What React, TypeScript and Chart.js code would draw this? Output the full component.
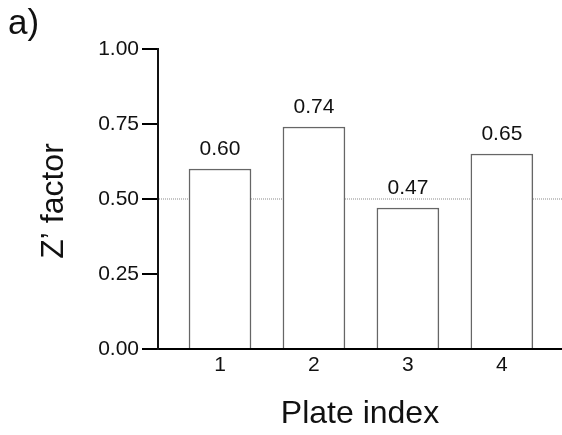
import React, { useEffect, useRef } from "react";
import { Chart, registerables } from "chart.js";

Chart.register(...registerables);

const plates = [1, 2, 3, 4];
const zFactor = [0.6, 0.74, 0.47, 0.65];
const yTicks = [0, 0.25, 0.5, 0.75, 1.0];
const threshold = 0.5;
const panelLabel = "a)";
const xTitle = "Plate index";
const yTitle = "Z’ factor";

const FONT = "'Liberation Sans', Arial, sans-serif";

export default function App() {
  const ref = useRef<HTMLCanvasElement | null>(null);

  useEffect(() => {
    const canvas = ref.current;
    if (!canvas) return;

    const overlay = {
      id: "overlay",
      beforeDatasetsDraw(chart: any) {
        const { ctx, chartArea, scales } = chart;
        const y = scales.y.getPixelForValue(threshold);
        ctx.save();
        ctx.strokeStyle = "#8a8a8a";
        ctx.lineWidth = 1;
        ctx.setLineDash([1, 1]);
        ctx.beginPath();
        ctx.moveTo(chartArea.left + 1, y);
        ctx.lineTo(chartArea.right, y);
        ctx.stroke();
        ctx.restore();
      },
      afterDraw(chart: any) {
        const { ctx, chartArea } = chart;
        ctx.save();
        ctx.fillStyle = "#111";
        ctx.font = `21px ${FONT}`;
        ctx.textAlign = "center";
        ctx.textBaseline = "alphabetic";
        const meta = chart.getDatasetMeta(0);
        meta.data.forEach((bar: any, i: number) => {
          ctx.fillText(zFactor[i].toFixed(2), bar.x, bar.y - 14);
        });
        ctx.font = `32px ${FONT}`;
        ctx.fillText(xTitle, (chartArea.left + chartArea.right) / 2, 423);
        ctx.save();
        ctx.translate(63, (chartArea.top + chartArea.bottom) / 2 + 2);
        ctx.rotate(-Math.PI / 2);
        ctx.fillText(yTitle, 0, 0);
        ctx.restore();
        ctx.textAlign = "left";
        ctx.font = `35px ${FONT}`;
        ctx.fillText(panelLabel, 8, 34);
        ctx.restore();
      },
    };

    const chart = new Chart(canvas, {
      type: "bar",
      data: {
        datasets: [
          {
            data: plates.map((p, i) => ({ x: p, y: zFactor[i] })),
            backgroundColor: "#ffffff",
            borderColor: "#666666",
            borderWidth: 1.5,
            barThickness: 62,
          },
        ],
      },
      options: {
        responsive: false,
        animation: false,
        layout: { padding: { top: 49, right: 0, left: 0, bottom: 0 } },
        plugins: {
          legend: { display: false },
          tooltip: { enabled: false },
        },
        scales: {
          x: {
            type: "linear",
            offset: false,
            min: 0.34,
            max: 4.64,
            afterBuildTicks: (scale: any) => {
              scale.ticks = plates.map((v) => ({ value: v }));
            },
            afterFit: (scale: any) => {
              scale.height = 86;
              scale.paddingLeft = 0;
              scale.paddingRight = 0;
            },
            grid: { display: false, drawTicks: false, offset: false },
            border: { display: true, color: "#000", width: 2 },
            ticks: {
              padding: 4,
              color: "#111",
              font: { family: FONT, size: 21 },
              callback: (v: any) => String(v),
            },
          },
          y: {
            min: 0,
            max: 1,
            afterBuildTicks: (scale: any) => {
              scale.ticks = yTicks.map((v) => ({ value: v }));
            },
            afterFit: (scale: any) => {
              scale.width = 158;
            },
            grid: {
              drawOnChartArea: false,
              drawTicks: true,
              tickLength: 16,
              tickColor: "#000",
              lineWidth: 2,
            },
            border: { display: true, color: "#111", width: 2 },
            ticks: {
              padding: 3,
              color: "#111",
              font: { family: FONT, size: 21 },
              callback: (v: any) => Number(v).toFixed(2),
            },
          },
        },
      },
      plugins: [overlay],
    });

    return () => chart.destroy();
  }, []);

  return (
    <div style={{ position: "fixed", left: 0, top: 0, width: 562, height: 435, background: "#fff" }}>
      <canvas ref={ref} width={562} height={435} style={{ display: "block", width: 562, height: 435 }} />
    </div>
  );
}
